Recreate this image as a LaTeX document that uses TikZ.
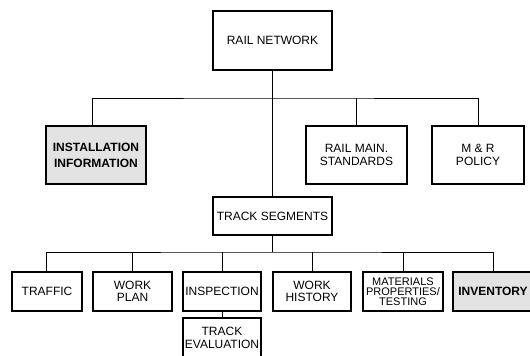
\documentclass[tikz,border=0pt]{standalone}
\usepackage{fontspec}
\setmainfont{Liberation Sans}
\tikzset{>=stealth}
\tikzset{
    unit/.style={draw, line width=1.1pt, align=center, inner sep=1pt,
        font=\fontsize{12}{12.5}\selectfont},
    shaded/.style={unit, fill=gray!22, font=\fontsize{12}{16}\selectfont\bfseries},
    link/.style={line width=0.8pt}
}

\begin{document}
\begin{tikzpicture}[x=1pt, y=-1pt]
    \useasboundingbox (0,0) rectangle (530,356);
    \clip (0,0) rectangle (530,356);
    \node[unit, minimum width=119pt, minimum height=59pt] (rail) at (272.5,40.5) {RAIL NETWORK};
    \node[shaded, minimum width=100pt, minimum height=58pt] (install) at (96,155) {INSTALLATION\\INFORMATION};
    \node[unit, minimum width=101pt, minimum height=58pt] (standards) at (356.5,155) {RAIL MAIN.\\STANDARDS};
    \node[unit, minimum width=92pt, minimum height=58pt] (policy) at (478,155) {M \& R\\POLICY};
    \node[unit, minimum width=119pt, minimum height=38pt] (segments) at (272.5,216) {TRACK SEGMENTS};
    \node[unit, minimum width=70pt, minimum height=39pt] (traffic) at (47,291.5) {TRAFFIC};
    \node[unit, minimum width=79pt, minimum height=39pt] (plan) at (132.5,291.5) {WORK\\PLAN};
    \node[unit, minimum width=78pt, minimum height=39pt] (inspection) at (222,291.5) {INSPECTION};
    \node[unit, minimum width=78pt, minimum height=39pt] (history) at (312,291.5) {WORK\\HISTORY};
    \node[unit, minimum width=80pt, minimum height=39pt, inner sep=0.5pt, font=\fontsize{11}{9.8}\selectfont] (materials) at (403,291.5) {MATERIALS\\PROPERTIES/\\TESTING};
    \node[shaded, minimum width=80pt, minimum height=39pt] (inventory) at (493,291.5) {INVENTORY};
    \node[unit, minimum width=78pt, minimum height=40pt] (evaluation) at (222,338) {TRACK\\EVALUATION};

    \coordinate (upper) at (272.5,98);
    \coordinate (lower) at (272.5,252);
    \draw[link] (rail) -- (segments);
    \draw[link] ([xshift=-4pt]install.north) |- (upper) -| (policy.north);
    \draw[link] (standards.north) -- (standards.north |- upper);
    \draw[link] (segments) -- (lower);
    \draw[link] ([xshift=-1pt]traffic.north) |- (lower) -| (inventory.north);
    \foreach \unitname in {plan, inspection, history, materials}
        \draw[link] (\unitname.north) -- (\unitname.north |- lower);
    \draw[link] (inspection) -- (evaluation);
\end{tikzpicture}
\end{document}
